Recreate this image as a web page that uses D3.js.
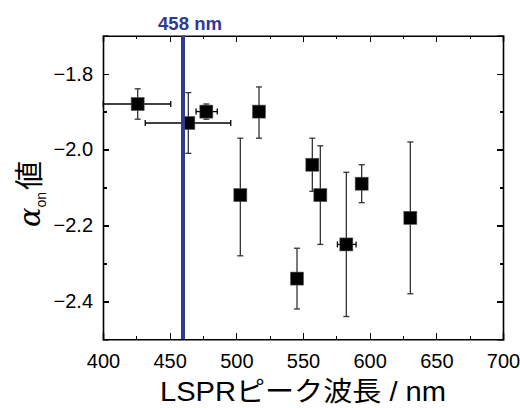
<!DOCTYPE html>
<html>
<head>
<meta charset="utf-8">
<script src="https://cdn.jsdelivr.net/npm/d3@7"></script>
<style>
  body { margin: 0; background: #fff; }
  svg { display: block; }
  .tick text { font-family: "Liberation Sans", Arial, sans-serif; font-size: 20px; fill: #000; }
</style>
</head>
<body>
<script>
// peak wavelength (nm) and alpha_on value for each sample
const wavelength = [426, 464, 477.5, 503, 517, 545.5, 557, 563, 582.5, 594, 630.5];
const alphaOn    = [-1.88, -1.93, -1.90, -2.12, -1.90, -2.34, -2.04, -2.12, -2.25, -2.09, -2.18];
// vertical error bar ends
const alphaLow   = [-1.92, -2.01, -1.92, -2.28, -1.97, -2.42, -2.11, -2.25, -2.44, -2.14, -2.38];
const alphaHigh  = [-1.84, -1.85, -1.88, -1.97, -1.835, -2.26, -1.97, -1.99, -2.06, -2.04, -1.98];
// horizontal error bar ends (null = none)
const waveLow    = [400.2, 431.7, 469.8, null, null, null, null, null, 575.8, null, null];
const waveHigh   = [450.8, 495.8, 485.7, null, null, null, null, null, 589.8, null, null];

const xTicks = [400, 450, 500, 550, 600, 650, 700];
const yTicks = [-1.8, -2.0, -2.2, -2.4];
const markerNm = 460;          // where the blue line sits
const markerLabel = "458 nm";

function viz(){
  const width = 520, height = 408;
  const margin = { top: 35.7, left: 103, bottom: 68.7, right: 17 };

  const svg = d3.select("body").append("svg")
      .attr("width", width).attr("height", height);

  const x = d3.scaleLinear().domain([400, 700]).range([margin.left, width - margin.right]);
  const y = d3.scaleLinear().domain([-2.5, -1.7]).range([height - margin.bottom, margin.top]);

  const xMinor = d3.range(400, 701, 25).filter(v => v % 50 !== 0);
  const yMinor = [-1.7, -1.9, -2.1, -2.3, -2.5];

  const axes = svg.append("g");

  //major + minor inward ticks on all four sides
  function addAxis(axisFn, scale, major, minor, transform, labels){
    const g = axes.append("g").attr("transform", transform);
    g.call(axisFn(scale).tickValues(major).tickSize(-6).tickPadding(labels ? 13 : 0)
          .tickFormat(labels ? (scale === y ? d3.format(".1f") : d3.format("d")) : ""));
    g.append("g").call(axisFn(scale).tickValues(minor).tickSize(-3.5).tickFormat(""))
      .select(".domain").remove();
    g.selectAll(".domain").attr("stroke", "#000").attr("stroke-width", 1.6);
    g.selectAll(".tick line").attr("stroke", "#000").attr("stroke-width", 1.3);
    return g;
  }
  addAxis(d3.axisBottom, x, xTicks, xMinor, `translate(0,${height - margin.bottom})`, true)
    .selectAll(".tick text").attr("dy", "0.78em");
  addAxis(d3.axisTop, x, xTicks, xMinor, `translate(0,${margin.top})`, false);
  addAxis(d3.axisLeft, y, yTicks, yMinor, `translate(${margin.left},0)`, true)
    .selectAll(".tick text").attr("dx", "3");
  addAxis(d3.axisRight, y, yTicks, yMinor, `translate(${width - margin.right},0)`, false);
  axes.selectAll(".tick line").attr("shape-rendering", "crispEdges");

  const pts = wavelength.map((w, i) => ({
    w, a: alphaOn[i], lo: alphaLow[i], hi: alphaHigh[i], wl: waveLow[i], wh: waveHigh[i]
  }));

  //vertical error bars
  const ey = svg.append("g").attr("stroke", "#333").attr("stroke-width", 1.3);
  pts.forEach(d => {
    ey.append("line").attr("x1", x(d.w)).attr("x2", x(d.w)).attr("y1", y(d.lo)).attr("y2", y(d.hi));
    [d.lo, d.hi].forEach(v => ey.append("line")
      .attr("x1", x(d.w) - 3).attr("x2", x(d.w) + 3).attr("y1", y(v)).attr("y2", y(v)));
  });

  //horizontal error bars
  const ex = svg.append("g").attr("stroke", "#000").attr("stroke-width", 1.3);
  pts.filter(d => d.wl !== null).forEach(d => {
    ex.append("line").attr("x1", x(d.wl)).attr("x2", x(d.wh)).attr("y1", y(d.a)).attr("y2", y(d.a));
    [d.wl, d.wh].forEach(v => ex.append("line")
      .attr("x1", x(v)).attr("x2", x(v)).attr("y1", y(d.a) - 3).attr("y2", y(d.a) + 3));
  });

  //square markers
  const s = 13;
  svg.append("g").selectAll("rect").data(pts).join("rect")
     .attr("x", d => x(d.w) - s / 2).attr("y", d => y(d.a) - s / 2)
     .attr("width", s).attr("height", s)
     .attr("fill", "#000").attr("stroke", "#555").attr("stroke-width", 0.6);

  //blue reference line
  svg.append("line")
     .attr("x1", x(markerNm)).attr("x2", x(markerNm))
     .attr("y1", margin.top).attr("y2", height - margin.bottom)
     .attr("stroke", "#2e3a94").attr("stroke-width", 4);
  svg.append("text").attr("x", x(markerNm) + 7).attr("y", 30)
     .attr("text-anchor", "middle")
     .style("font-family", "'Liberation Sans', Arial, sans-serif")
     .style("font-size", "19px").style("font-weight", "bold")
     .attr("fill", "#2e3a94").attr("textLength", 64).attr("lengthAdjust", "spacingAndGlyphs")
     .text(markerLabel);

  //axis titles
  svg.append("text").attr("x", (margin.left + width - margin.right) / 2).attr("y", 401)
     .attr("text-anchor", "middle")
     .style("font-family", "'Liberation Sans', 'Noto Sans CJK JP', sans-serif")
     .style("font-size", "27px")
     .attr("textLength", 286).attr("lengthAdjust", "spacingAndGlyphs")
     .text("LSPRピーク波長 / nm");

  const yt = svg.append("text")
     .attr("transform", "translate(40,194) rotate(-90)")
     .attr("text-anchor", "middle")
     .style("font-family", "'Liberation Sans', 'Noto Sans CJK JP', sans-serif")
     .style("font-size", "29px");
  yt.append("tspan").style("font-family", "'DejaVu Serif', serif").style("font-style", "italic").text("α");
  yt.append("tspan").attr("dy", 6).style("font-size", "14px").text("on");
  yt.append("tspan").attr("dy", -6).attr("dx", 2).text("値");
}
viz();
</script>
</body>
</html>
